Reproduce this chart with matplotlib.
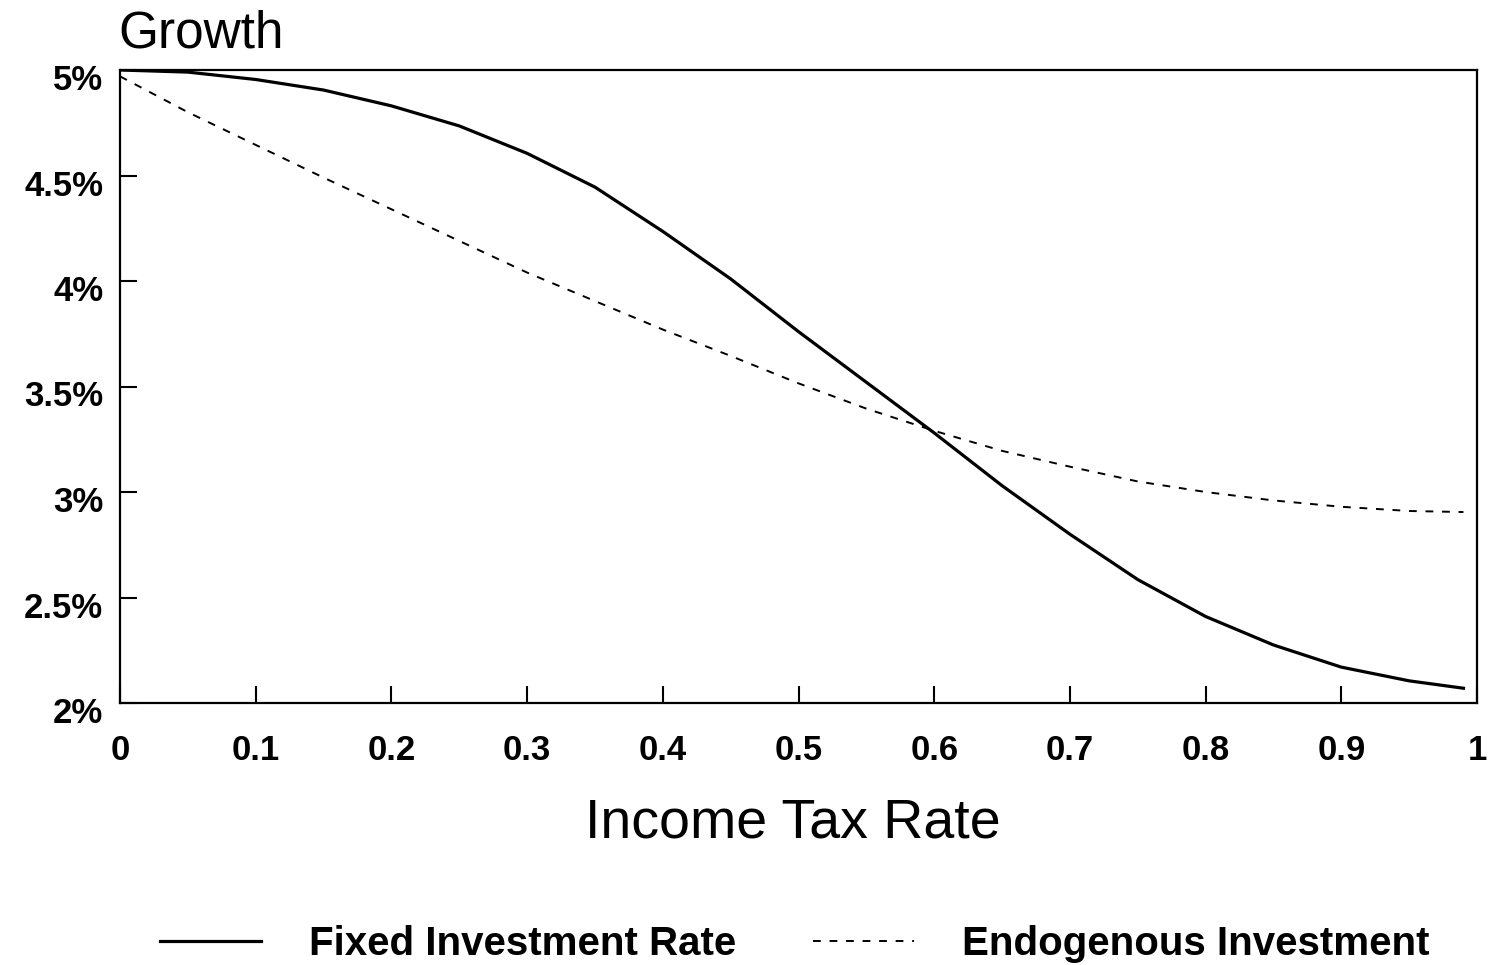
import numpy as np
import matplotlib as mpl
mpl.use('Agg')
import matplotlib.pyplot as plt
from matplotlib.transforms import ScaledTranslation

plt.rcParams['font.family'] = ['Liberation Sans', 'DejaVu Sans']

# Income tax rate
tax = [0.0, 0.05, 0.10, 0.15, 0.20, 0.25, 0.30, 0.35, 0.40, 0.45, 0.50,
       0.55, 0.60, 0.65, 0.70, 0.75, 0.80, 0.85, 0.90, 0.95, 0.99]
# Growth (%) - fixed investment rate
fixed = [5.00, 4.99, 4.955, 4.905, 4.83, 4.735, 4.605, 4.445, 4.235, 4.01, 3.76,
         3.52, 3.28, 3.03, 2.80, 2.585, 2.41, 2.275, 2.17, 2.105, 2.07]
# Growth (%) - endogenous investment
endog = [4.97, 4.80, 4.645, 4.49, 4.34, 4.19, 4.04, 3.905, 3.77, 3.645, 3.515,
         3.395, 3.29, 3.195, 3.12, 3.05, 3.00, 2.96, 2.93, 2.91, 2.905]

xticks = [0, 0.1, 0.2, 0.3, 0.4, 0.5, 0.6, 0.7, 0.8, 0.9, 1]
xticklabels = ['0', '0.1', '0.2', '0.3', '0.4', '0.5', '0.6', '0.7', '0.8', '0.9', '1']
yticks = [2, 2.5, 3, 3.5, 4, 4.5, 5]
yticklabels = ['2%', '2.5%', '3%', '3.5%', '4%', '4.5%', '5%']

fig = plt.figure(figsize=(14.9, 9.65), dpi=100)
ax = fig.add_axes([120/1490, 1-703/965, 1357/1490, 633/965])

l1, = ax.plot(tax, fixed, color='k', lw=2.3, solid_joinstyle='round')
l2, = ax.plot(tax, endog, color='k', lw=1.4, dashes=(4, 4.5))

ax.set_xlim(0, 1)
ax.set_ylim(2, 5)
ax.set_xticks(xticks)
ax.set_xticklabels(xticklabels, fontsize=25, fontweight='bold')
ax.set_yticks(yticks)
ax.set_yticklabels(yticklabels, fontsize=25, fontweight='bold')
ax.tick_params(axis='x', direction='in', length=12, width=1.5, pad=22, top=False)
ax.tick_params(axis='y', direction='in', length=12, width=1.5, pad=12, right=False)
for lab in ax.get_yticklabels():
    lab.set_transform(lab.get_transform() + ScaledTranslation(0, -0.07, fig.dpi_scale_trans))
for s in ax.spines.values():
    s.set_linewidth(1.6)

fig.text(118/1490, 1-48/965, 'Growth', fontsize=37, ha='left', va='baseline')
fig.text(793/1490, 1-837/965, 'Income Tax Rate', fontsize=40, ha='center', va='baseline')

fig.legend([l1, l2], ['Fixed Investment Rate', 'Endogenous Investment'],
           loc='center', bbox_to_anchor=(795/1490, 1-944/965), ncol=2, frameon=False,
           prop={'size': 29, 'weight': 'bold'}, handlelength=2.5, handletextpad=1.2,
           columnspacing=1.9)

fig.savefig('out.png', dpi=100)
